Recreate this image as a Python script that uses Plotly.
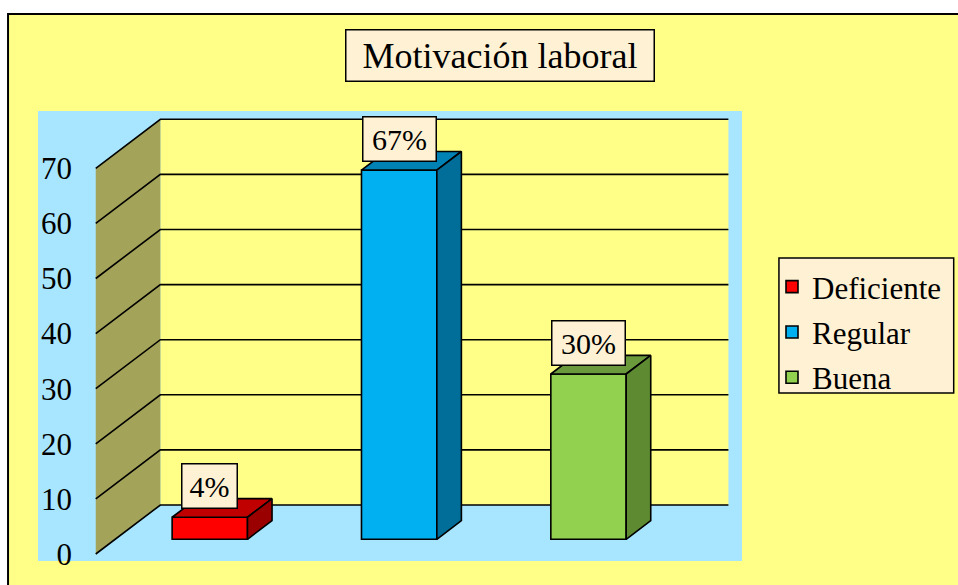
import plotly.graph_objects as go

# ---- data ----
categories = ["Deficiente", "Regular", "Buena"]
values = [4, 67, 30]
labels = ["4%", "67%", "30%"]
y_ticks = [0, 10, 20, 30, 40, 50, 60, 70]
title_text = "Motivación laboral"

# ---- style ----
front_colors = ["#FF0000", "#00B0F0", "#92D050"]
top_colors = ["#C00000", "#0082B4", "#6A9A3C"]
side_colors = ["#9A0000", "#006E98", "#5E8A32"]
PAPER = "#FFFF88"
PLOT = "#A8E6FF"
WALL_SIDE = "#A3A35A"
CREAM = "#FFF2D4"
FONT = "Liberation Serif, Times New Roman, serif"

W, H = 958, 585
L, R, T, B = 38, 215, 111, 24
X_RANGE = [-0.805, 2.913]
Y_RANGE = [-1.27, 80.4]
DX = 0.3412   # x shift for full depth (data units)
DY = 8.893    # y shift for full depth (data units)
D_FRONT = 0.30
D_BAR = 0.38
BAR_W = 0.398
WALL_X0, WALL_X1 = -0.5, 2.5
WALL_TOP = max(y_ticks)

fig = go.Figure()

def path(pts):
    return "M " + " L ".join(f"{x},{y}" for x, y in pts) + " Z"

px = lambda p: (p - L) / (W - L - R)
py = lambda p: (H - B - p) / (H - T - B)

shapes = []
# chart area background (white outside the border)
shapes.append(dict(type="rect", xref="paper", yref="paper", layer="below",
                   x0=px(8), x1=px(975), y0=py(600), y1=py(14),
                   line=dict(width=0), fillcolor=PAPER))
# plot area background
shapes.append(dict(type="rect", xref="paper", yref="paper", layer="below",
                   x0=0, x1=1, y0=0, y1=1, line=dict(width=0), fillcolor=PLOT))
# back wall
shapes.append(dict(type="path", xref="x", yref="y", layer="below",
                   path=path([(WALL_X0 + DX, DY), (WALL_X1 + DX, DY),
                              (WALL_X1 + DX, WALL_TOP + DY), (WALL_X0 + DX, WALL_TOP + DY)]),
                   fillcolor=PAPER, line=dict(width=0)))
# side wall
shapes.append(dict(type="path", xref="x", yref="y", layer="below",
                   path=path([(WALL_X0, 0), (WALL_X0 + DX, DY),
                              (WALL_X0 + DX, WALL_TOP + DY), (WALL_X0, WALL_TOP)]),
                   fillcolor=WALL_SIDE, line=dict(width=0)))
for k in y_ticks:
    shapes.append(dict(type="path", xref="x", yref="y", layer="below",
                       path=f"M {WALL_X0},{k} L {WALL_X0 + DX},{k + DY} L {WALL_X1 + DX},{k + DY}",
                       line=dict(color="black", width=1.6)))

# outer chart border
shapes.append(dict(type="rect", xref="paper", yref="paper", layer="above",
                   x0=px(8), x1=px(975), y0=py(600), y1=py(14),
                   line=dict(color="black", width=2), fillcolor="rgba(0,0,0,0)"))
# legend box
shapes.append(dict(type="rect", xref="paper", yref="paper", layer="above",
                   x0=px(780), x1=px(955), y0=py(393), y1=py(258),
                   line=dict(color="black", width=1.5), fillcolor=CREAM))

# bars
for i, (cat, v) in enumerate(zip(categories, values)):
    c = i + D_FRONT * DX
    base = D_FRONT * DY
    xl, xr = c - BAR_W / 2, c + BAR_W / 2
    ddx, ddy = D_BAR * DX, D_BAR * DY
    fig.add_trace(go.Bar(x=[c], y=[v], base=[base], width=[BAR_W], name=cat,
                         marker=dict(color=front_colors[i], line=dict(color="black", width=1.6)),
                         legendgroup=cat, hoverinfo="skip"))
    fig.add_trace(go.Scatter(x=[xl, xr, xr + ddx, xl + ddx, xl],
                             y=[v + base, v + base, v + base + ddy, v + base + ddy, v + base],
                             mode="lines", fill="toself", fillcolor=top_colors[i],
                             line=dict(color="black", width=1.6), showlegend=False,
                             hoverinfo="skip"))
    fig.add_trace(go.Scatter(x=[xr, xr + ddx, xr + ddx, xr, xr],
                             y=[base, base + ddy, v + base + ddy, v + base, base],
                             mode="lines", fill="toself", fillcolor=side_colors[i],
                             line=dict(color="black", width=1.6), showlegend=False,
                             hoverinfo="skip"))
    fig.add_annotation(x=c, y=v + base, xref="x", yref="y", text=labels[i],
                       showarrow=False, yanchor="bottom", yshift=8,
                       font=dict(family=FONT, size=30, color="black"),
                       bgcolor=CREAM, bordercolor="black", borderwidth=1.5,
                       borderpad=1, width=16 + 18 * len(labels[i]), height=41)

# title
fig.add_annotation(x=px(500.5), y=py(55.5), xref="paper", yref="paper",
                   text=title_text, showarrow=False, xanchor="center", yanchor="middle",
                   font=dict(family=FONT, size=36, color="black"),
                   bgcolor=CREAM, bordercolor="black", borderwidth=1.5,
                   borderpad=1, width=305, height=48)

fig.update_layout(
    width=W, height=H,
    margin=dict(l=L, r=R, t=T, b=B, pad=0),
    paper_bgcolor="white", plot_bgcolor="rgba(0,0,0,0)",
    shapes=shapes,
    barmode="overlay",
    showlegend=True,
    legend=dict(x=px(772), y=py(260), xanchor="left", yanchor="top",
                bgcolor="rgba(0,0,0,0)", borderwidth=0,
                font=dict(family=FONT, size=31, color="black"),
                tracegroupgap=2),
    xaxis=dict(range=X_RANGE, visible=False, fixedrange=True),
    yaxis=dict(range=Y_RANGE, tickvals=y_ticks, ticktext=[str(t) for t in y_ticks],
               showgrid=False, zeroline=False, showline=False, ticks="",
               anchor="free", position=px(72),
               tickfont=dict(family=FONT, size=31, color="black"), fixedrange=True),
    font=dict(family=FONT),
)

fig.write_html("out.html", config={"displayModeBar": False},
               post_script="document.body.style.margin='0';document.body.style.overflow='hidden';")
